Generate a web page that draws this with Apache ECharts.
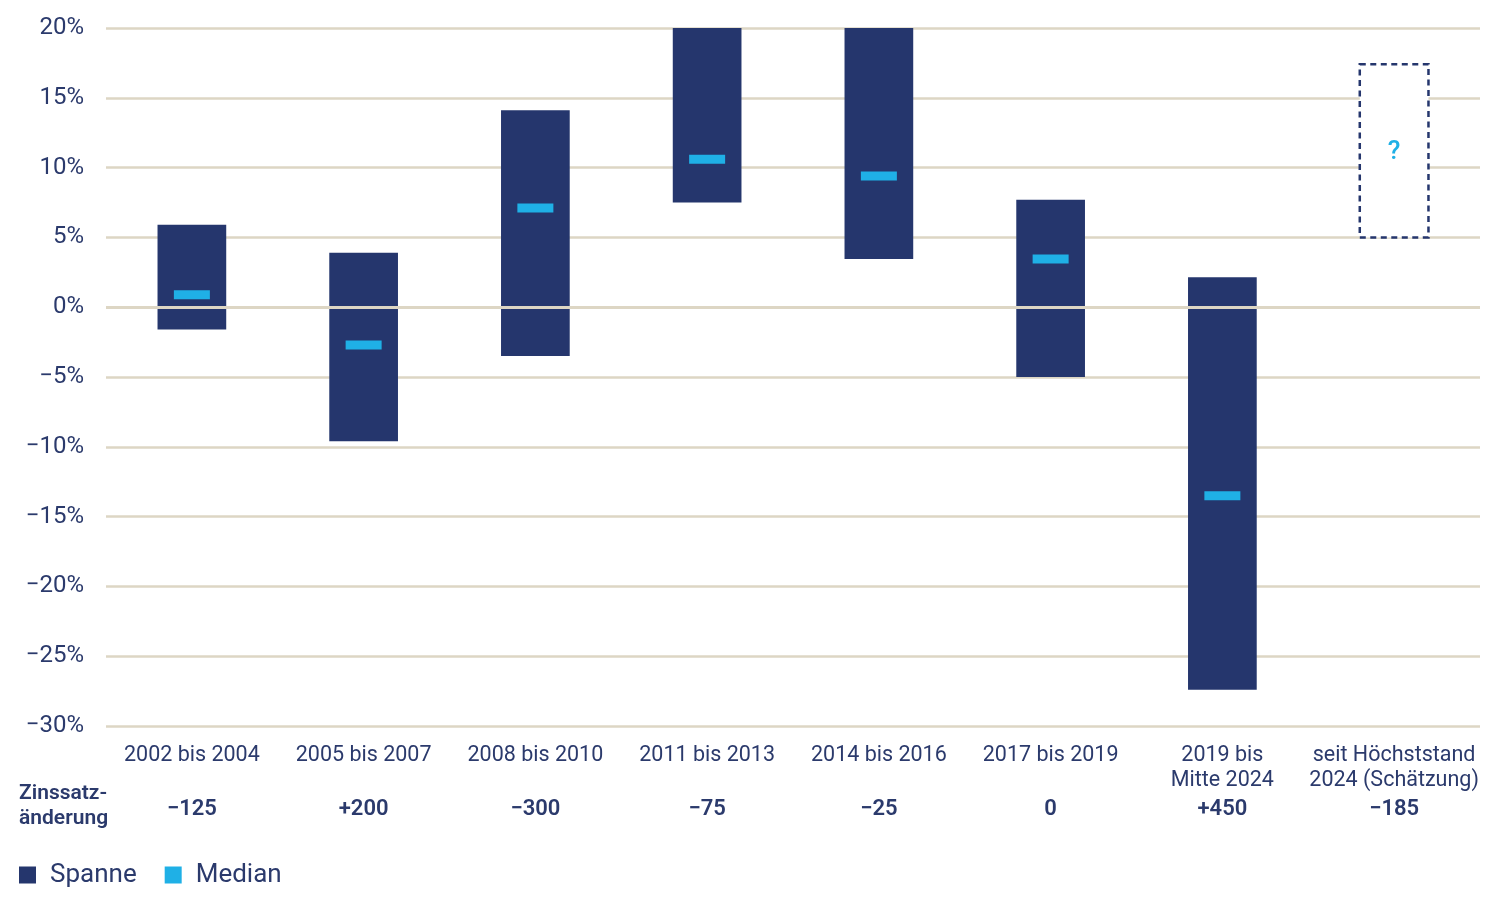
<!DOCTYPE html>
<html><head><meta charset="utf-8">
<script src="https://cdn.jsdelivr.net/npm/echarts@6/dist/echarts.min.js"></script>
<style>html,body{margin:0;padding:0;background:#fff}#c{width:1500px;height:900px}</style>
</head><body><div id="c"></div>
<script>
const categories = ['2002 bis 2004','2005 bis 2007','2008 bis 2010','2011 bis 2013','2014 bis 2016','2017 bis 2019','2019 bis\nMitte 2024','seit Höchststand\n2024 (Schätzung)'];
const rateChanges = ['−125','+200','−300','−75','−25','0','+450','−185'];
const rangeLow  = [-1.6, -9.6, -3.5, 7.5, 3.45, -5.0, -27.4, null];
const rangeHigh = [5.9, 3.9, 14.1, 20, 20, 7.7, 2.15, null];
const medianValues = [0.9, -2.7, 7.1, 10.6, 9.4, 3.45, -13.5, null];
const estimateLow  = [null, null, null, null, null, null, null, 5.0];
const estimateHigh = [null, null, null, null, null, null, null, 17.4];
const estimateLabel = '?';
const rowHeader = 'Zinssatz-\nänderung';

const NAVY = '#25366d', TXT = '#2b3a6c', LIGHT = '#1fb0e6', GRID = '#ddd6c4';
const FONT = 'Roboto';

const rangeData = [], medianData = [], estData = [];
categories.forEach((c, i) => {
  if (rangeLow[i] != null) rangeData.push([i, rangeLow[i], rangeHigh[i]]);
  if (medianValues[i] != null) medianData.push([i, medianValues[i]]);
  if (estimateLow[i] != null) estData.push([i, estimateLow[i], estimateHigh[i]]);
});

const chart = echarts.init(document.getElementById('c'));
chart.setOption({
  animation: false,
  textStyle: { fontFamily: FONT },
  grid: { left: 106, right: 20, top: 28, bottom: 174, containLabel: false },
  xAxis: {
    type: 'category', data: categories,
    axisLine: { show: false }, axisTick: { show: false },
    axisLabel: {
      interval: 0, margin: 17,
      formatter: (v, i) => {
        const lines = v.split('\n');
        if (lines.length < 2) lines.push(' ');
        return lines.map(l => '{a|' + l + '}').join('\n') + '\n{b|' + rateChanges[i] + '}';
      },
      rich: {
        a: { fontSize: 21.5, lineHeight: 25, color: TXT, fontFamily: FONT },
        b: { fontSize: 22, lineHeight: 33, color: TXT, fontWeight: 600, fontFamily: FONT }
      }
    }
  },
  yAxis: {
    type: 'value', min: -30, max: 20, interval: 5,
    axisLine: { show: false }, axisTick: { show: false },
    splitLine: { lineStyle: { color: GRID, width: 2.5 } },
    axisLabel: {
      margin: 22, fontSize: 24, color: TXT, fontFamily: FONT,
      formatter: v => (v < 0 ? '−' + Math.abs(v) : v) + '%'
    }
  },
  legend: {
    left: 14, top: 857, itemWidth: 17, itemHeight: 17, itemGap: 28,
    textStyle: { fontSize: 26, color: TXT, fontFamily: FONT, padding: [0, 0, 0, 9] },
    data: [
      { name: 'Spanne', icon: 'rect', itemStyle: { color: NAVY, opacity: 1 } },
      { name: 'Median', icon: 'rect', itemStyle: { color: LIGHT, opacity: 1 } }
    ]
  },
  graphic: [{
    type: 'text', left: 19, top: 781,
    style: { text: rowHeader, fontSize: 21, lineHeight: 25, fontWeight: 600, fill: TXT, fontFamily: FONT }
  }],
  series: [
    {
      name: 'Spanne', type: 'custom', z: 2, data: rangeData,
      encode: { x: 0, y: [1, 2] },
      itemStyle: { color: NAVY },
      renderItem: (params, api) => {
        const x = api.value(0), lo = api.value(1), hi = api.value(2);
        const p1 = api.coord([x, hi]), p2 = api.coord([x, lo]);
        const w = api.size([1, 0])[0] * 0.4;
        return { type: 'rect', shape: { x: p1[0] - w / 2, y: p1[1], width: w, height: p2[1] - p1[1] }, style: { fill: NAVY } };
      }
    },
    {
      name: 'Schätzung', type: 'custom', z: 2, data: estData,
      encode: { x: 0, y: [1, 2] },
      renderItem: (params, api) => {
        const x = api.value(0), lo = api.value(1), hi = api.value(2);
        const p1 = api.coord([x, hi]), p2 = api.coord([x, lo]);
        const w = api.size([1, 0])[0] * 0.4;
        return {
          type: 'group', children: [
            { type: 'rect', shape: { x: p1[0] - w / 2, y: p1[1], width: w, height: p2[1] - p1[1] },
              style: { fill: '#fff', stroke: NAVY, lineWidth: 2.5, lineDash: [6, 4.5] } },
            { type: 'text', x: p1[0], y: (p1[1] + p2[1]) / 2 + 2,
              style: { text: estimateLabel, fill: LIGHT, fontSize: 26, fontWeight: 500, fontFamily: FONT, align: 'center', verticalAlign: 'middle' } }
          ]
        };
      }
    },
    {
      name: 'Median', type: 'scatter', z: 3, data: medianData,
      symbol: 'rect', symbolSize: [36, 9],
      itemStyle: { color: LIGHT, opacity: 1 },
      markLine: {
        silent: true, symbol: 'none', label: { show: false },
        lineStyle: { color: GRID, width: 3, type: 'solid', opacity: 1 },
        data: [{ yAxis: 0 }]
      }
    }
  ]
});
</script></body></html>
